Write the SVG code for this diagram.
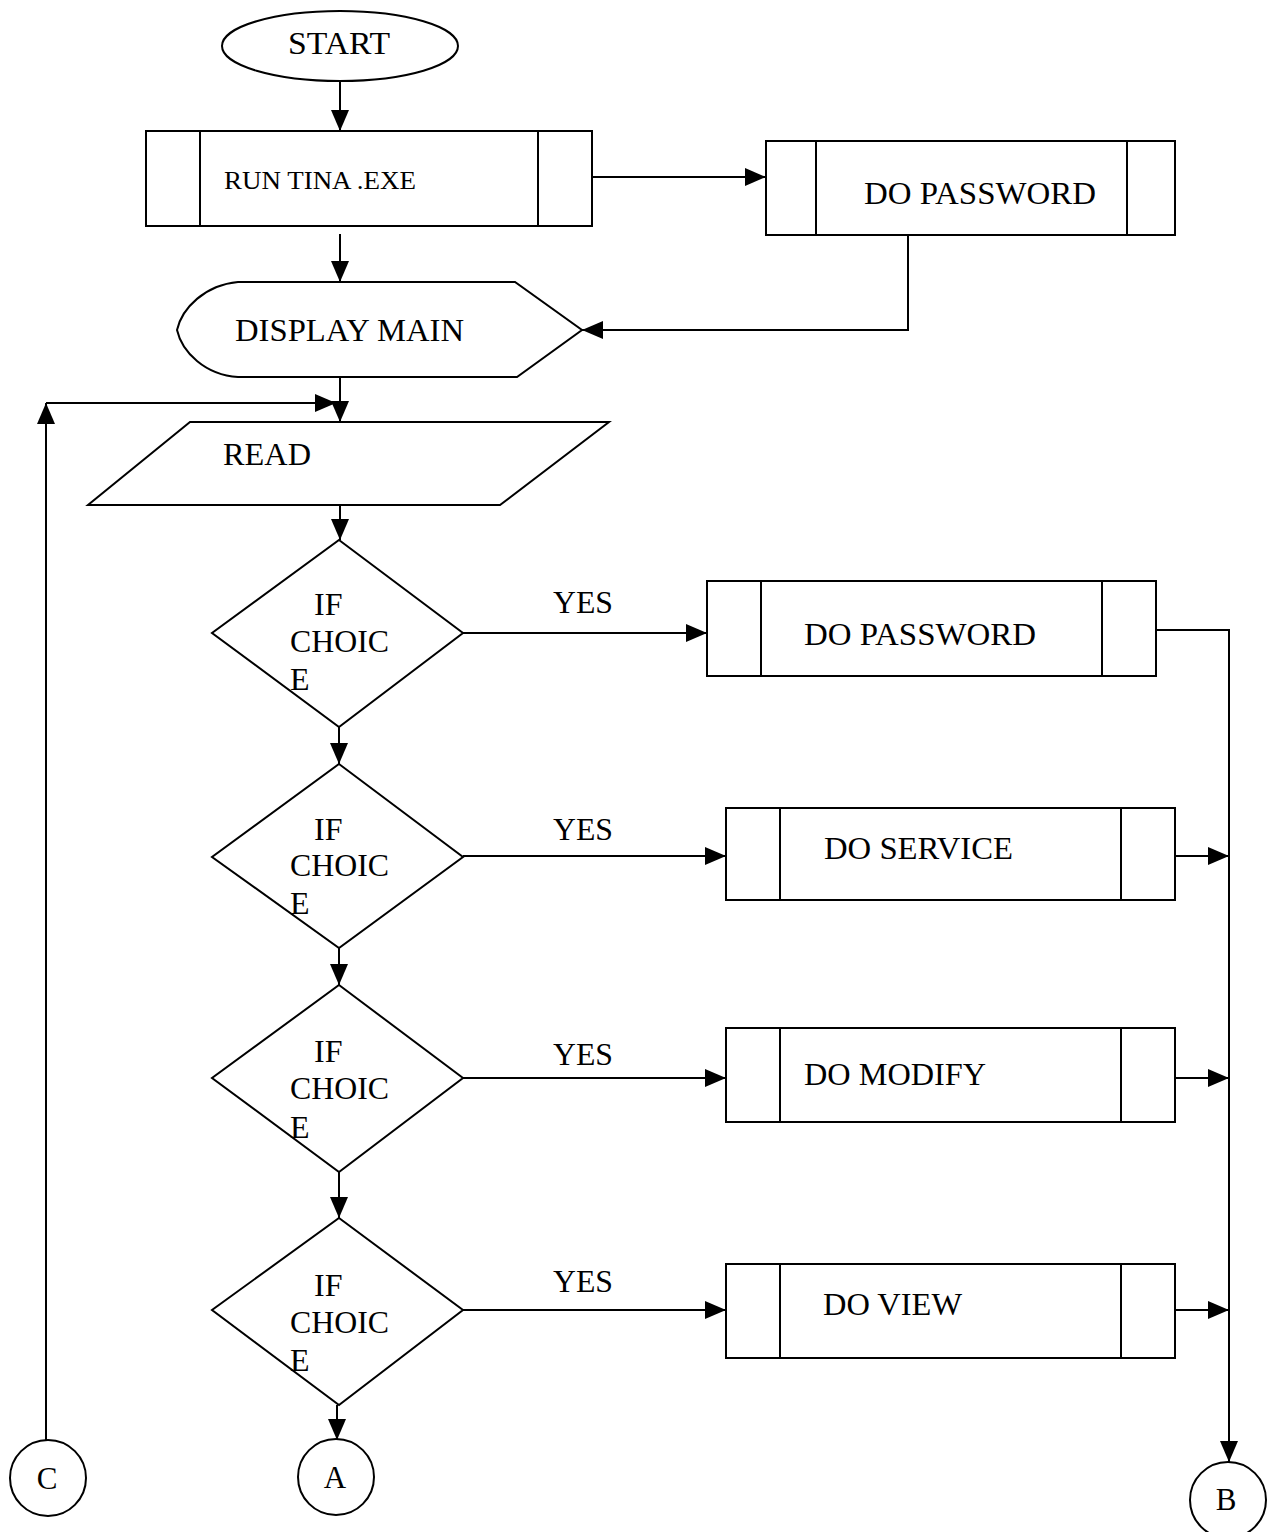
<svg xmlns="http://www.w3.org/2000/svg" width="1270" height="1532" viewBox="0 0 1270 1532">
<defs>
<marker id="ah" markerUnits="userSpaceOnUse" markerWidth="22" markerHeight="18" refX="21" refY="9" orient="auto">
<path d="M0,0 L21,9 L0,18 Z" fill="#000"/>
</marker>
</defs>
<style>
.s{fill:#fff;stroke:#000;stroke-width:2}
.l{fill:none;stroke:#000;stroke-width:2}
.c{fill:none;stroke:#000;stroke-width:2;marker-end:url(#ah)}
text{font-family:"Liberation Serif","Times New Roman",serif;fill:#000;font-size:32px}
</style>
<rect width="1270" height="1532" fill="#fff"/>
<g id="connectors">
<line class="c" x1="340" y1="81" x2="340" y2="131"/>
<line class="c" x1="592" y1="177" x2="766" y2="177"/>
<line class="c" x1="340" y1="234" x2="340" y2="282"/>
<polyline class="c" points="908,235 908,330 582,330"/>
<line class="c" x1="340" y1="377" x2="340" y2="422"/>
<line class="c" x1="46" y1="1440" x2="46" y2="403"/>
<line class="c" x1="46" y1="403" x2="336" y2="403"/>
<line class="c" x1="340" y1="505" x2="340" y2="540"/>
<line class="c" x1="339" y1="727" x2="339" y2="764"/>
<line class="c" x1="339" y1="948" x2="339" y2="985"/>
<line class="c" x1="339" y1="1172" x2="339" y2="1218"/>
<line class="c" x1="337" y1="1405" x2="337" y2="1440"/>
<line class="c" x1="463" y1="633" x2="707" y2="633"/>
<line class="c" x1="463" y1="856" x2="726" y2="856"/>
<line class="c" x1="463" y1="1078" x2="726" y2="1078"/>
<line class="c" x1="463" y1="1310" x2="726" y2="1310"/>
<polyline class="c" points="1156,630 1229,630 1229,1462"/>
<line class="c" x1="1175" y1="856" x2="1229" y2="856"/>
<line class="c" x1="1175" y1="1078" x2="1229" y2="1078"/>
<line class="c" x1="1175" y1="1310" x2="1229" y2="1310"/>
<text x="553" y="613" textLength="60" lengthAdjust="spacingAndGlyphs">YES</text>
<text x="553" y="840" textLength="60" lengthAdjust="spacingAndGlyphs">YES</text>
<text x="553" y="1065" textLength="60" lengthAdjust="spacingAndGlyphs">YES</text>
<text x="553" y="1292" textLength="60" lengthAdjust="spacingAndGlyphs">YES</text>
</g>
<g id="start">
<ellipse class="s" cx="340" cy="46" rx="118" ry="35"/>
<text x="288" y="54" textLength="102" lengthAdjust="spacingAndGlyphs">START</text>
</g>
<g id="run-tina">
<rect class="s" x="146" y="131" width="446" height="95"/>
<line class="l" x1="200" y1="131" x2="200" y2="226"/>
<line class="l" x1="538" y1="131" x2="538" y2="226"/>
<text x="224" y="189" style="font-size:26px" textLength="192" lengthAdjust="spacingAndGlyphs">RUN TINA .EXE</text>
</g>
<g id="do-password-1">
<rect class="s" x="766" y="141" width="409" height="94"/>
<line class="l" x1="816" y1="141" x2="816" y2="235"/>
<line class="l" x1="1127" y1="141" x2="1127" y2="235"/>
<text x="864" y="204" textLength="232" lengthAdjust="spacingAndGlyphs">DO PASSWORD</text>
</g>
<g id="display-main">
<path class="s" d="M238,282 L515,282 L582,330 L517,377 L238,377 C205,375 182,352 177,330 C182,308 205,285 238,282 Z"/>
<text x="235" y="341" textLength="229" lengthAdjust="spacingAndGlyphs">DISPLAY MAIN</text>
</g>
<g id="read">
<polygon class="s" points="190,422 609,422 500,505 88,505"/>
<text x="223" y="465" textLength="88" lengthAdjust="spacingAndGlyphs">READ</text>
</g>
<g id="choice-1">
<polygon class="s" points="339,540 463,633 339,727 212,633"/>
<text x="314" y="615">IF</text>
<text x="290" y="652" textLength="99" lengthAdjust="spacingAndGlyphs">CHOIC</text>
<text x="290" y="690">E</text>
</g>
<g id="choice-2">
<polygon class="s" points="339,764 463,857 339,948 212,857"/>
<text x="314" y="840">IF</text>
<text x="290" y="876" textLength="99" lengthAdjust="spacingAndGlyphs">CHOIC</text>
<text x="290" y="914">E</text>
</g>
<g id="choice-3">
<polygon class="s" points="339,985 463,1078 339,1172 212,1078"/>
<text x="314" y="1062">IF</text>
<text x="290" y="1099" textLength="99" lengthAdjust="spacingAndGlyphs">CHOIC</text>
<text x="290" y="1138">E</text>
</g>
<g id="choice-4">
<polygon class="s" points="339,1218 463,1310 339,1405 212,1310"/>
<text x="314" y="1296">IF</text>
<text x="290" y="1333" textLength="99" lengthAdjust="spacingAndGlyphs">CHOIC</text>
<text x="290" y="1371">E</text>
</g>
<g id="do-password-2">
<rect class="s" x="707" y="581" width="449" height="95"/>
<line class="l" x1="761" y1="581" x2="761" y2="676"/>
<line class="l" x1="1102" y1="581" x2="1102" y2="676"/>
<text x="804" y="645" textLength="232" lengthAdjust="spacingAndGlyphs">DO PASSWORD</text>
</g>
<g id="do-service">
<rect class="s" x="726" y="808" width="449" height="92"/>
<line class="l" x1="780" y1="808" x2="780" y2="900"/>
<line class="l" x1="1121" y1="808" x2="1121" y2="900"/>
<text x="824" y="859" textLength="189" lengthAdjust="spacingAndGlyphs">DO SERVICE</text>
</g>
<g id="do-modify">
<rect class="s" x="726" y="1028" width="449" height="94"/>
<line class="l" x1="780" y1="1028" x2="780" y2="1122"/>
<line class="l" x1="1121" y1="1028" x2="1121" y2="1122"/>
<text x="804" y="1085" textLength="182" lengthAdjust="spacingAndGlyphs">DO MODIFY</text>
</g>
<g id="do-view">
<rect class="s" x="726" y="1264" width="449" height="94"/>
<line class="l" x1="780" y1="1264" x2="780" y2="1358"/>
<line class="l" x1="1121" y1="1264" x2="1121" y2="1358"/>
<text x="823" y="1315" textLength="139" lengthAdjust="spacingAndGlyphs">DO VIEW</text>
</g>
<g id="conn-c">
<circle class="s" cx="48" cy="1478" r="38"/>
<text x="47" y="1489" text-anchor="middle" style="font-size:31px">C</text>
</g>
<g id="conn-a">
<circle class="s" cx="336" cy="1477" r="38"/>
<text x="335" y="1488" text-anchor="middle" style="font-size:31px">A</text>
</g>
<g id="conn-b">
<circle class="s" cx="1228" cy="1500" r="38"/>
<text x="1226" y="1510" text-anchor="middle" style="font-size:31px">B</text>
</g>
</svg>
